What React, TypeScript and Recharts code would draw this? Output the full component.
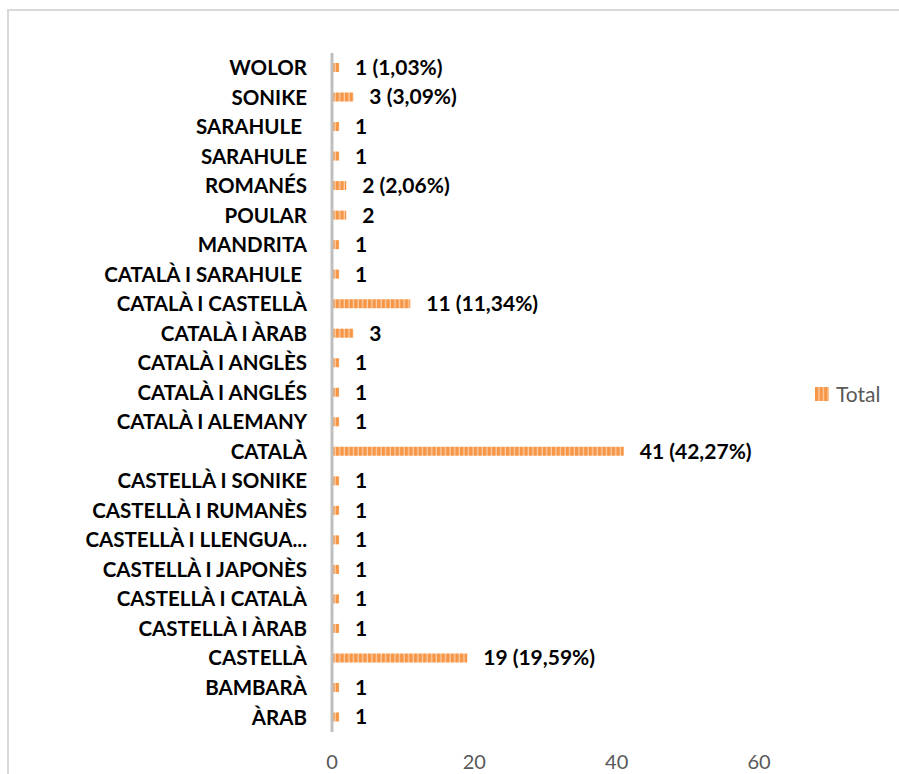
import React from "react";
import { BarChart, Bar, XAxis, YAxis, LabelList } from "recharts";

// top to bottom, as shown
const categories = [
  "WOLOR",
  "SONIKE",
  "SARAHULE\u00A0",
  "SARAHULE",
  "ROMANÉS",
  "POULAR",
  "MANDRITA",
  "CATALÀ I SARAHULE\u00A0",
  "CATALÀ I CASTELLÀ",
  "CATALÀ I ÀRAB",
  "CATALÀ I ANGLÈS",
  "CATALÀ I ANGLÉS",
  "CATALÀ I ALEMANY",
  "CATALÀ",
  "CASTELLÀ I SONIKE",
  "CASTELLÀ I RUMANÈS",
  "CASTELLÀ I LLENGUA...",
  "CASTELLÀ I JAPONÈS",
  "CASTELLÀ I CATALÀ",
  "CASTELLÀ I ÀRAB",
  "CASTELLÀ",
  "BAMBARÀ",
  "ÀRAB",
];

const totals = [1, 3, 1, 1, 2, 2, 1, 1, 11, 3, 1, 1, 1, 41, 1, 1, 1, 1, 1, 1, 19, 1, 1];

const valueLabels = [
  "1 (1,03%)",
  "3 (3,09%)",
  "1",
  "1",
  "2 (2,06%)",
  "2",
  "1",
  "1",
  "11 (11,34%)",
  "3",
  "1",
  "1",
  "1",
  "41 (42,27%)",
  "1",
  "1",
  "1",
  "1",
  "1",
  "1",
  "19 (19,59%)",
  "1",
  "1",
];

const xTicks = [0, 20, 40, 60];

const data = categories.map((name, i) => ({
  id: `c${i}`,
  name,
  Total: totals[i],
  label: valueLabels[i],
}));

const FONT = "Lato, 'Open Sans', sans-serif";
const ORANGE = "#F79646";
const ORANGE_LIGHT = "#FBCFAA";

const Stripes = ({ id }: { id: string }) => (
  <pattern id={id} width={4.6} height={20} patternUnits="userSpaceOnUse">
    <rect width={4.6} height={20} fill={ORANGE_LIGHT} />
    <rect width={3.3} height={20} fill={ORANGE} />
  </pattern>
);

export default function App() {
  return (
    <div
      style={{
        position: "absolute",
        left: 0,
        top: 0,
        width: 899,
        height: 774,
        overflow: "hidden",
        background: "#fff",
      }}
    >
      <div
        style={{
          position: "absolute",
          left: 7,
          top: 9,
          width: 900,
          height: 800,
          borderLeft: "2px solid #D9D9D9",
          borderTop: "2px solid #D9D9D9",
        }}
      />
      <div style={{ position: "absolute", left: 0, top: 0 }}>
        <BarChart
          width={899}
          height={774}
          data={data}
          layout="vertical"
          margin={{ top: 53, right: 140, bottom: 0, left: 0 }}
          barCategoryGap={0}
        >
          <defs>
            <Stripes id="stripes" />
          </defs>
          <XAxis
            type="number"
            domain={[0, 60]}
            ticks={xTicks}
            axisLine={false}
            tickLine={false}
            height={42}
            tickMargin={17}
            tick={{ fill: "#595959", fontSize: 20, fontFamily: FONT }}
          />
          <YAxis
            type="category"
            dataKey="id"
            width={332}
            tickFormatter={(v: string) => categories[Number(v.slice(1))]}
            axisLine={{ stroke: "#BFBFBF", strokeWidth: 3 }}
            tickLine={false}
            tickSize={0}
            tickMargin={25}
            interval={0}
            tick={{
              fill: "#000",
              fontSize: 20.5,
              fontWeight: 700,
              fontFamily: FONT,
            }}
          />
          <Bar
            dataKey="Total"
            fill="url(#stripes)"
            barSize={9}
            isAnimationActive={false}
          >
            <LabelList
              dataKey="label"
              position="right"
              offset={16}
              fill="#000"
              fontSize={21}
              fontWeight={700}
              fontFamily={FONT}
            />
          </Bar>
        </BarChart>
      </div>
      {/* legend */}
      <div
        style={{
          position: "absolute",
          left: 815,
          top: 381,
          display: "flex",
          alignItems: "center",
          fontFamily: FONT,
        }}
      >
        <svg width={14} height={14} style={{ marginRight: 7 }}>
          <defs>
            <Stripes id="stripes-legend" />
          </defs>
          <rect width={14} height={14} fill="url(#stripes-legend)" />
        </svg>
        <span style={{ color: "#595959", fontSize: 21 }}>Total</span>
      </div>
    </div>
  );
}
